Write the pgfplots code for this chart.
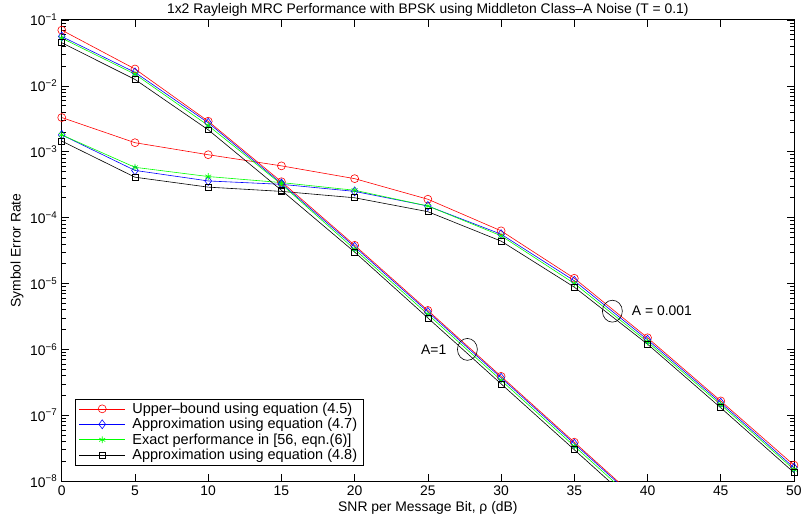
\documentclass[border=0pt]{standalone}
\usepackage{fontspec}
\setmainfont{Liberation Sans}
\usepackage{pgfplots}
\pgfplotsset{compat=1.18}
\begin{document}
\begin{tikzpicture}
\begin{axis}[
  scale only axis, width=735bp, height=463bp,
  xmin=0, xmax=50, ymin=1e-8, ymax=1e-1, ymode=log,
  xtick={0,5,...,50},
  ytick={1e-8,1e-7,1e-6,1e-5,1e-4,1e-3,1e-2,1e-1},
  yticklabels={10\textsuperscript{−8},10\textsuperscript{−7},10\textsuperscript{−6},10\textsuperscript{−5},10\textsuperscript{−4},10\textsuperscript{−3},10\textsuperscript{−2},10\textsuperscript{−1}},
  /pgf/number format/assume math mode=true,
  tick align=inside, major tick length=7bp, minor tick length=4bp,
  axis line style={line width=0.9bp},
  every tick/.style={black, line width=0.6bp},
  tick label style={font=\fontsize{14}{16}\selectfont},
  xticklabel style={yshift=-1bp},
  yticklabel style={xshift=-1bp},
  title={1x2 Rayleigh MRC Performance with BPSK using Middleton Class–A Noise (T = 0.1)},
  xlabel={SNR per Message Bit, ρ (dB)},
  ylabel={Symbol Error Rate},
  every axis title/.style={at={(axis description cs:0.5,1)}, anchor=center, yshift=10bp, font=\fontsize{14}{16}\selectfont},
  every axis x label/.style={at={(axis description cs:0.5,0)}, anchor=center, yshift=-27bp, font=\fontsize{14}{16}\selectfont},
  every axis y label/.style={at={(axis description cs:0,0.5)}, anchor=center, xshift=-45bp, rotate=90, font=\fontsize{14}{16}\selectfont},
  legend style={at={(axis description cs:0.0177,0.034)}, anchor=south west, draw=black, line width=0.6bp, font=\fontsize{14.6}{16}\selectfont, cells={anchor=west}, row sep=-0.5bp, inner xsep=4bp, inner ysep=2bp,
    /tikz/every odd column/.append style={column sep=5bp}},
  legend image code/.code={\draw[mark repeat=2,mark phase=2] plot coordinates {(0bp,0bp) (23bp,0bp) (46bp,0bp)};},
  every axis plot/.append style={line width=0.6bp, mark options={solid, line width=0.6bp}},
]
% A = 0.001 group (with legend)
\addplot[red, mark=o, mark size=4bp] coordinates {(0,3.3e-3) (5,1.37e-3) (10,9e-4) (15,6.1e-4) (20,3.9e-4) (25,1.9e-4) (30,6.3e-5) (35,1.2e-5) (40,1.5e-6) (45,1.65e-7) (50,1.75e-8)};
\addlegendentry{Upper–bound using equation (4.5)}
\addplot[blue, mark=diamond, mark size=4.5bp] coordinates {(0,1.8e-3) (5,5.2e-4) (10,3.6e-4) (15,3.2e-4) (20,2.5e-4) (25,1.5e-4) (30,5.6e-5) (35,1.1e-5) (40,1.4e-6) (45,1.55e-7) (50,1.6e-8)};
\addlegendentry{Approximation using equation (4.7)}
\addplot[green, mark=asterisk, mark size=3.5bp] coordinates {(0,1.8e-3) (5,5.8e-4) (10,4.2e-4) (15,3.4e-4) (20,2.6e-4) (25,1.5e-4) (30,5.3e-5) (35,1.0e-5) (40,1.3e-6) (45,1.45e-7) (50,1.5e-8)};
\addlegendentry{Exact performance in [56, eqn.(6)]}
\addplot[black, mark=square, mark size=3bp] coordinates {(0,1.45e-3) (5,4.1e-4) (10,2.9e-4) (15,2.5e-4) (20,2.0e-4) (25,1.23e-4) (30,4.4e-5) (35,8.8e-6) (40,1.2e-6) (45,1.3e-7) (50,1.35e-8)};
\addlegendentry{Approximation using equation (4.8)}
% A = 1 group
\addplot[red, mark=o, mark size=4bp, forget plot] coordinates {(0,7.0e-2) (5,1.8e-2) (10,2.9e-3) (15,3.5e-4) (20,3.8e-5) (25,3.9e-6) (30,3.9e-7) (35,3.9e-8) (40,3.9e-9)};
\addplot[blue, mark=diamond, mark size=4.5bp, forget plot] coordinates {(0,5.6e-2) (5,1.6e-2) (10,2.75e-3) (15,3.3e-4) (20,3.6e-5) (25,3.7e-6) (30,3.7e-7) (35,3.7e-8) (40,3.7e-9)};
\addplot[green, mark=asterisk, mark size=3.5bp, forget plot] coordinates {(0,5.3e-2) (5,1.5e-2) (10,2.5e-3) (15,3.2e-4) (20,3.3e-5) (25,3.4e-6) (30,3.4e-7) (35,3.4e-8) (40,3.4e-9)};
\addplot[black, mark=square, mark size=3bp, forget plot] coordinates {(0,4.5e-2) (5,1.25e-2) (10,2.15e-3) (15,2.6e-4) (20,3.0e-5) (25,3.0e-6) (30,3.0e-7) (35,3.0e-8) (40,3.0e-9)};
% annotations
\draw[line width=0.6bp] (axis cs:37.6,3.8e-6) ellipse [x radius=10bp, y radius=11bp];
\node[anchor=west, font=\fontsize{14}{16}\selectfont] at (axis cs:38.7,3.9e-6) {A = 0.001};
\draw[line width=0.6bp] (axis cs:27.7,1.0e-6) ellipse [x radius=10bp, y radius=11bp];
\node[anchor=east, font=\fontsize{14}{16}\selectfont] at (axis cs:26.5,1.0e-6) {A=1};
\end{axis}
\path (-62bp,-37bp) rectangle (743bp,483bp);
\end{tikzpicture}
\end{document}
